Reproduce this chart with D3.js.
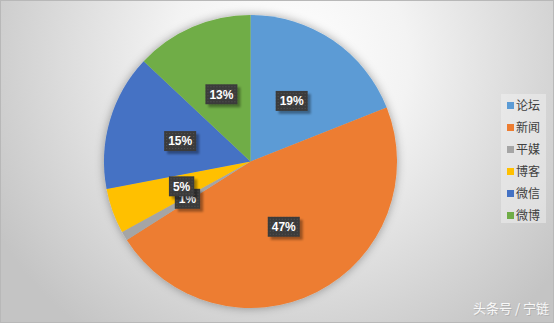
<!DOCTYPE html>
<html>
<head>
<meta charset="UTF-8">
<title>饼图</title>
<style>
  html, body { margin: 0; padding: 0; background: #fff; }
  svg { display: block; }
</style>
</head>
<body>
<div id="pie_chart"></div>
<script src="https://cdn.jsdelivr.net/npm/d3@7/dist/d3.min.js"></script>
<script>
  // 数据
  const categories = ["论坛", "新闻", "平媒", "博客", "微信", "微博"];
  const values = [19, 47, 1, 5, 15, 13];
  const colors = ["#5B9BD5", "#ED7D31", "#A5A5A5", "#FFC000", "#4472C4", "#70AD47"];

  const W = 554, H = 323;
  const cx = 250.5, cy = 161.5, R = 146.5;

  const svg = d3.select("#pie_chart").append("svg")
    .attr("width", W)
    .attr("height", H);

  const defs = svg.append("defs");

  // 背景渐变
  const bg = defs.append("radialGradient")
    .attr("id", "bg")
    .attr("gradientUnits", "userSpaceOnUse")
    .attr("cx", 290).attr("cy", 60).attr("r", 340);
  bg.append("stop").attr("offset", "0%").attr("stop-color", "#ffffff");
  bg.append("stop").attr("offset", "35%").attr("stop-color", "#f3f3f3");
  bg.append("stop").attr("offset", "100%").attr("stop-color", "#c4c4c4");

  // 饼图阴影
  const glow = defs.append("filter").attr("id", "glow")
    .attr("x", "-20%").attr("y", "-20%").attr("width", "140%").attr("height", "140%");
  glow.append("feGaussianBlur").attr("in", "SourceAlpha").attr("stdDeviation", 5).attr("result", "b");
  glow.append("feFlood").attr("flood-color", "#000").attr("flood-opacity", 0.35);
  glow.append("feComposite").attr("in2", "b").attr("operator", "in").attr("result", "s");
  const m = glow.append("feMerge");
  m.append("feMergeNode").attr("in", "s");
  m.append("feMergeNode").attr("in", "SourceGraphic");

  // 标签阴影
  const lblShadow = defs.append("filter").attr("id", "lblShadow")
    .attr("x", "-30%").attr("y", "-30%").attr("width", "160%").attr("height", "160%");
  lblShadow.append("feGaussianBlur").attr("stdDeviation", 0.8);

  // 标签底纹
  const pat = defs.append("pattern").attr("id", "dots")
    .attr("patternUnits", "userSpaceOnUse").attr("width", 3).attr("height", 3);
  pat.append("rect").attr("width", 3).attr("height", 3).attr("fill", "#3b3b3b");
  pat.append("rect").attr("x", 1).attr("y", 1).attr("width", 1).attr("height", 1).attr("fill", "#555");

  svg.append("rect")
    .attr("x", 0.5).attr("y", 0.5)
    .attr("width", W - 1).attr("height", H - 1)
    .attr("fill", "url(#bg)")
    .attr("stroke", "#b8b8b8");

  const pie = d3.pie().value(d => d).sort(null);
  const pieData = pie(values);

  const arcPath = d3.arc().innerRadius(0).outerRadius(R);
  const labelArc = d3.arc().innerRadius(R * 0.5).outerRadius(R * 0.5);

  const g = svg.append("g").attr("transform", `translate(${cx},${cy})`);

  g.append("g").attr("filter", "url(#glow)")
    .selectAll("path").data(pieData).enter().append("path")
    .attr("d", d => arcPath(d))
    .attr("fill", (d, i) => colors[i]);

  // 数据标签
  const lbl = g.selectAll("g.lbl").data(pieData).enter().append("g")
    .attr("class", "lbl")
    .attr("transform", d => `translate(${labelArc.centroid(d)})`);

  lbl.each(function (d) {
    const s = d3.select(this);
    const txt = d.data + "%";
    const t = s.append("text")
      .attr("text-anchor", "middle")
      .attr("dy", "0.36em")
      .attr("fill", "#fff")
      .attr("font-family", "'Liberation Sans', Arial, sans-serif")
      .attr("font-weight", "bold")
      .attr("font-size", "12px")
      .text(txt);
    const w = t.node().getComputedTextLength() + 8, h = 20;
    s.insert("rect", "text")
      .attr("x", -w / 2 + 3).attr("y", -h / 2 + 3)
      .attr("width", w).attr("height", h)
      .attr("fill", "rgba(0,0,0,0.35)")
      .attr("filter", "url(#lblShadow)");
    s.insert("rect", "text")
      .attr("x", -w / 2).attr("y", -h / 2)
      .attr("width", w).attr("height", h)
      .attr("fill", "url(#dots)");
  });

  // 图例
  const legend = svg.append("g");
  legend.append("rect")
    .attr("x", 501).attr("y", 94)
    .attr("width", 45).attr("height", 129)
    .attr("fill", "rgba(245,245,245,0.45)");

  const ly = d3.scalePoint().domain(categories).range([105.5, 215.5]);
  const item = legend.selectAll("g.item").data(categories).enter().append("g")
    .attr("class", "item")
    .attr("transform", d => `translate(507,${ly(d)})`);
  item.append("rect")
    .attr("x", 0).attr("y", -3.5)
    .attr("width", 7).attr("height", 7)
    .attr("fill", (d, i) => colors[i]);
  item.append("text")
    .attr("x", 9).attr("dy", "0.36em")
    .attr("fill", "#404040")
    .attr("font-family", "'Noto Sans CJK SC', sans-serif")
    .attr("font-size", "12px")
    .text(d => d);

  // 水印
  const wm = "头条号 / 宁链";
  svg.append("text")
    .attr("x", 550).attr("y", 314)
    .attr("text-anchor", "end")
    .attr("fill", "rgba(110,110,110,0.25)")
    .attr("font-family", "'Noto Sans CJK SC', sans-serif")
    .attr("font-size", "13px")
    .text(wm);
  svg.append("text")
    .attr("x", 549).attr("y", 313)
    .attr("text-anchor", "end")
    .attr("fill", "#f8f8f8")
    .attr("font-family", "'Noto Sans CJK SC', sans-serif")
    .attr("font-size", "13px")
    .text(wm);
</script>
</body>
</html>
